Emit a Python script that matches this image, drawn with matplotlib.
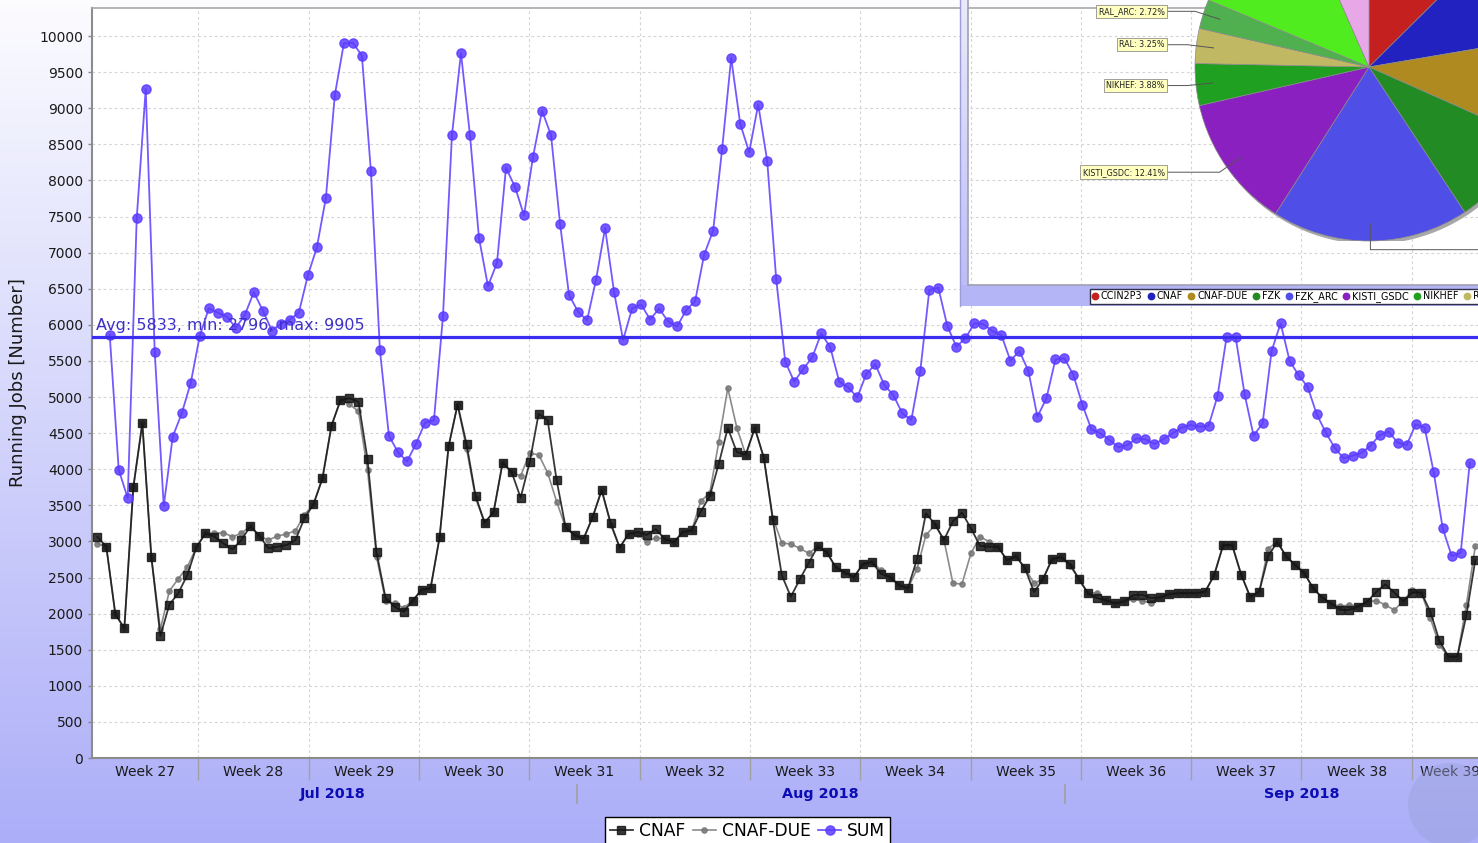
import datetime as dt
import numpy as np
import matplotlib
matplotlib.use("Agg")
import matplotlib.pyplot as plt
import matplotlib.dates as mdates
import matplotlib.transforms as mtransforms
from matplotlib.lines import Line2D
from matplotlib.patches import Rectangle, Circle

# ---------------- data ----------------
cnaf = [3065, 2927, 1994, 1796, 3749, 4636, 2784, 1690, 2124, 2285,
        2535, 2918, 3112, 3065, 2973, 2890, 3019, 3213, 3075, 2904,
        2927, 2950, 3019, 3320, 3514, 3874, 4603, 4955, 4983, 4932,
        4140, 2850, 2220, 2095, 2025, 2175, 2330, 2350, 3055, 4315,
        4895, 4347, 3630, 3260, 3405, 4090, 3960, 3605, 4093, 4768,
        4680, 3845, 3193, 3085, 3040, 3338, 3710, 3254, 2915, 3105,
        3134, 3090, 3171, 3034, 2988, 3128, 3154, 3414, 3627, 4075,
        4571, 4238, 4203, 4571, 4160, 3300, 2530, 2234, 2475, 2706,
        2930, 2850, 2640, 2567, 2503, 2687, 2715, 2550, 2507, 2396,
        2350, 2752, 3389, 3240, 3019, 3280, 3400, 3180, 2940, 2925,
        2927, 2740, 2795, 2627, 2298, 2479, 2754, 2782, 2687, 2477,
        2279, 2215, 2185, 2143, 2169, 2255, 2262, 2215, 2225, 2270,
        2284, 2284, 2284, 2302, 2533, 2948, 2948, 2540, 2232, 2302,
        2791, 2995, 2791, 2673, 2561, 2350, 2220, 2138, 2051, 2051,
        2098, 2165, 2302, 2406, 2291, 2173, 2291, 2291, 2028, 1628,
        1405, 1405, 1974, 2745]

cnaf_due = [2970, 2927, 1994, 1796, 3749, 4636, 2784, 1782, 2313, 2484,
            2646, 2918, 3112, 3112, 3121, 3065, 3112, 3213, 3075, 3019,
            3075, 3102, 3148, 3370, 3514, 3874, 4603, 4955, 4900, 4800,
            3990, 2790, 2180, 2140, 2080, 2175, 2330, 2350, 3055, 4315,
            4895, 4280, 3600, 3260, 3405, 4090, 3960, 3906, 4220, 4200,
            3952, 3550, 3193, 3085, 3040, 3338, 3710, 3230, 2915, 3105,
            3100, 2994, 3050, 3034, 2988, 3128, 3154, 3559, 3670, 4378,
            5124, 4576, 4200, 4571, 4160, 3330, 2977, 2964, 2904, 2835,
            2930, 2850, 2627, 2580, 2503, 2687, 2715, 2604, 2507, 2396,
            2350, 2613, 3088, 3227, 3019, 2419, 2410, 2835, 3066, 2996,
            2927, 2733, 2798, 2627, 2419, 2479, 2754, 2782, 2660, 2477,
            2279, 2290, 2185, 2143, 2169, 2198, 2175, 2152, 2225, 2270,
            2284, 2284, 2284, 2302, 2533, 2948, 2948, 2540, 2232, 2302,
            2900, 2995, 2791, 2673, 2561, 2350, 2220, 2138, 2100, 2120,
            2098, 2165, 2180, 2120, 2050, 2173, 2330, 2291, 1935, 1565,
            1405, 1405, 2119, 2937]

sum_jobs = [5864, 3994, 3599, 7474, 9266, 5621, 3491, 4452, 4774, 5197,
            5847, 6226, 6169, 6113, 5960, 6135, 6452, 6198, 5921, 6011,
            6073, 6169, 6683, 7073, 7757, 9186, 9898, 9905, 9729, 8130,
            5650, 4463, 4237, 4107, 4350, 4644, 4678, 6118, 8627, 9763,
            8627, 7203, 6536, 6859, 8175, 7910, 7514, 8328, 8966, 8627,
            7401, 6412, 6181, 6062, 6627, 7339, 6452, 5791, 6226, 6282,
            6073, 6226, 6045, 5977, 6203, 6328, 6972, 7305, 8441, 9695,
            8785, 8390, 9051, 8271, 6633, 5491, 5212, 5388, 5549, 5882,
            5688, 5212, 5133, 4995, 5318, 5453, 5166, 5028, 4774, 4681,
            5364, 6482, 6514, 5983, 5697, 5813, 6020, 6011, 5914, 5859,
            5503, 5637, 5360, 4727, 4981, 5521, 5535, 5304, 4889, 4552,
            4497, 4404, 4303, 4335, 4427, 4413, 4349, 4418, 4497, 4575,
            4612, 4589, 4598, 5014, 5827, 5836, 5041, 4464, 4635, 5637,
            6020, 5503, 5300, 5143, 4765, 4511, 4298, 4150, 4187, 4229,
            4326, 4474, 4520, 4367, 4335, 4621, 4575, 3957, 3181, 2796,
            2844, 4088]

site_start = dt.datetime(2018, 7, 1, 14, 10)
sum_start = dt.datetime(2018, 7, 2, 9, 3)
sample_step = dt.timedelta(minutes=823)

avg_value, min_value, max_value = 5833, 2796, 9905

series_names = ["CNAF", "CNAF-DUE", "SUM"]
week_numbers = list(range(27, 40))
month_labels = ["Jul 2018", "Aug 2018", "Sep 2018"]
y_ticks = list(range(0, 10001, 500))

pie_sites = ["CCIN2P3", "CNAF", "CNAF-DUE", "FZK", "FZK_ARC", "KISTI_GSDC",
             "NIKHEF", "RAL", "RAL_ARC", "SARA", "TRIUMF"]
pie_share = [12.58, 9.75, 9.33, 9.06, 18.31, 12.41, 3.88, 3.25, 2.72, 12.11, 6.60]
pie_colors = ["#c42020", "#2222c0", "#ae8a20", "#238b23", "#4f4fe8", "#8a20c0",
              "#20a020", "#c0b862", "#50b050", "#50ec20", "#e8a8e8"]

# ---------------- figure ----------------
W, H = 1478, 843
fig = plt.figure(figsize=(W / 100, H / 100), dpi=100)


def fx(px):
    return px / W


def fy(py):
    return 1 - py / H


# background gradient
bg = fig.add_axes([0, 0, 1, 1], zorder=0)
top_c = np.array([252, 252, 255]) / 255
bot_c = np.array([172, 174, 248]) / 255
g = np.linspace(0, 1, 256)[:, None, None]
grad = top_c * (1 - g) + bot_c * g
bg.imshow(grad, extent=(0, 1, 0, 1), aspect="auto", origin="upper")
bg.axis("off")

# main axes
ax = fig.add_axes([fx(92), fy(758), (1489 - 92) / W, (758 - 8) / H], zorder=1)
ax.set_facecolor("white")

t_sites = mdates.date2num([site_start + i * sample_step for i in range(len(cnaf))])
t_sum = mdates.date2num([sum_start + i * sample_step for i in range(len(sum_jobs))])

base = dt.datetime(2018, 7, 1)
x_left = mdates.date2num(base + dt.timedelta(days=0.254))
x_right = mdates.date2num(base + dt.timedelta(days=88.9))

l_due, = ax.plot(t_sites, cnaf_due, color="#777777", lw=1.2, marker="o", ms=3.8,
                 alpha=0.85, zorder=3)
l_cnaf, = ax.plot(t_sites, cnaf, color="#141414", lw=1.3, marker="s", ms=5.8,
                  alpha=0.85, zorder=4)
l_sum, = ax.plot(t_sum, sum_jobs, color="#5a3cff", lw=1.3, marker="o", ms=6.6,
                 alpha=0.85, zorder=5)

ax.axhline(avg_value, color="#3b2cf2", lw=2.3, zorder=6)
avg_trans = mtransforms.blended_transform_factory(ax.transAxes, ax.transData)
ax.annotate(f"Avg: {avg_value}, min: {min_value}, max: {max_value}",
            xy=(0, avg_value), xycoords=avg_trans, xytext=(3, 5),
            textcoords="offset points", va="baseline", ha="left",
            fontsize=11.5, color="#3c30c8", zorder=7)

ax.set_xlim(x_left, x_right)
ax.set_ylim(0, 10388)
ax.set_yticks(y_ticks)
ax.set_yticklabels([str(v) for v in y_ticks], fontsize=10, color="#1a1a1a")
ax.tick_params(axis="y", length=3, width=1, color="#888888", pad=3.5)

week_starts = [base + dt.timedelta(days=7 * i) for i in range(len(week_numbers) + 1)]
ax.set_xticks(mdates.date2num(week_starts[1:-1]))
ax.set_xticklabels([])
ax.tick_params(axis="x", length=16, width=1, color="#a0a0a0")

ax.grid(True, color="#d4d4d4", lw=0.8, ls=(0, (2.5, 2.5)))
ax.set_axisbelow(True)
for s in ["left", "bottom"]:
    ax.spines[s].set_color("#8c8c8c")
    ax.spines[s].set_linewidth(1.5)
ax.spines["top"].set_color("#a8a8a8")
ax.spines["top"].set_linewidth(1.2)
ax.spines["right"].set_visible(False)

ax.set_ylabel("Running Jobs [Number]", fontsize=13, color="#1a1a1a", labelpad=9)

btrans = mtransforms.blended_transform_factory(ax.transData, fig.transFigure)
for wn, ws in zip(week_numbers, week_starts):
    lo = max(mdates.date2num(ws), x_left)
    hi = min(mdates.date2num(ws + dt.timedelta(days=7)), x_right)
    ax.text((lo + hi) / 2, fy(772), f"Week {wn}", transform=btrans,
            ha="center", va="center", fontsize=10, color="#1a1a1a")

month_starts = [dt.datetime(2018, m, 1) for m in (7, 8, 9, 10)]
for i, lab in enumerate(month_labels):
    a = mdates.date2num(month_starts[i])
    b = mdates.date2num(month_starts[i + 1])
    ax.text((a + b) / 2, fy(794), lab, transform=btrans, ha="center", va="center",
            fontsize=10.4, fontweight="bold", color="#0c0cb4")
for ms_ in month_starts[1:3]:
    xm = mdates.date2num(ms_)
    ax.add_line(Line2D([xm, xm], [fy(785), fy(803)], transform=btrans,
                       color="#a0a0a0", lw=1.2, clip_on=False))

# bottom legend
fig.legend([l_cnaf, l_due, l_sum], series_names, loc="upper center",
           bbox_to_anchor=(fx(747.5), fy(817)), ncol=3, fontsize=12.3,
           frameon=True, fancybox=False, edgecolor="black", framealpha=1,
           borderpad=0.3, handlelength=1.35, handletextpad=0.35,
           columnspacing=0.45, borderaxespad=0)

# ---------------- overlay pie panel ----------------
ov = fig.add_axes([0, 0, 1, 1], zorder=2)
ov.patch.set_alpha(0)
strip_top = np.array([234, 234, 252]) / 255
strip_bot = np.array([186, 186, 246]) / 255
sg = np.linspace(0, 1, 128)[:, None, None]
ov.imshow(strip_top * (1 - sg) + strip_bot * sg, extent=(960, 968, 306, 0),
          aspect="auto", origin="upper")
ov.add_patch(Rectangle((960, 285), 540, 21, fc="#b3b5f6", ec="none"))
ov.plot([968, 968], [0, 285], color="#a0a0b0", lw=1.2)
ov.plot([968, 1500], [285, 285], color="#a0a0b0", lw=1.2)
ov.plot([960, 960], [0, 306], color="#9c9cd8", lw=1.0)
ov.add_patch(Circle((1450, 805), 42, fc="#9aa2dc", ec="none", alpha=0.45))
ov.set_xlim(0, W)
ov.set_ylim(H, 0)
ov.axis("off")

R_px = 174
pc_x, pc_y = 1369, 67
axp = fig.add_axes([fx(pc_x - R_px), fy(pc_y + R_px), 2 * R_px / W, 2 * R_px / H], zorder=3)
axp.add_patch(Circle((0.012, -0.018), 1.0, fc="#a8a8a8", ec="none", zorder=0))
axp.pie(pie_share, colors=pie_colors, startangle=90, counterclock=False,
        radius=1.0, frame=False,
        wedgeprops=dict(edgecolor="#8c8c8c", linewidth=0.5))
axp.set_xlim(-1, 1)
axp.set_ylim(-1, 1)
axp.set_aspect("equal")
axp.axis("off")

cum = np.cumsum([0] + pie_share)
for name, share, c0, c1 in zip(pie_sites, pie_share, cum[:-1], cum[1:]):
    th = np.deg2rad(90 - 3.6 * (c0 + c1) / 2)
    ca, sa = np.cos(th), np.sin(th)
    ex, ey = 1.05 * ca, 1.05 * sa
    side = 1 if ca >= 0 else -1
    lx = side * 1.16
    axp.add_line(Line2D([0.9 * ca, ex, lx], [0.9 * sa, ey, ey], color="#555555",
                        lw=0.7, clip_on=False, zorder=5))
    axp.text(lx + side * 0.014, ey, f"{name}: {share:.2f}%", fontsize=5.8,
             ha="left" if side > 0 else "right", va="center", color="#222222",
             clip_on=False, zorder=6,
             bbox=dict(boxstyle="square,pad=0.28", fc="#ffffc0", ec="#909090", lw=0.6))

pie_handles = [Line2D([], [], ls="none", marker="o", ms=4.6, color=c) for c in pie_colors]
fig.legend(pie_handles, pie_sites, loc="upper left",
           bbox_to_anchor=(fx(1090), fy(289)), ncol=len(pie_sites), fontsize=6.9,
           frameon=True, fancybox=False, edgecolor="#303048", framealpha=1,
           borderpad=0.22, handlelength=0.6, handletextpad=0.3,
           columnspacing=0.6, borderaxespad=0)

fig.savefig("out.png", dpi=100)
